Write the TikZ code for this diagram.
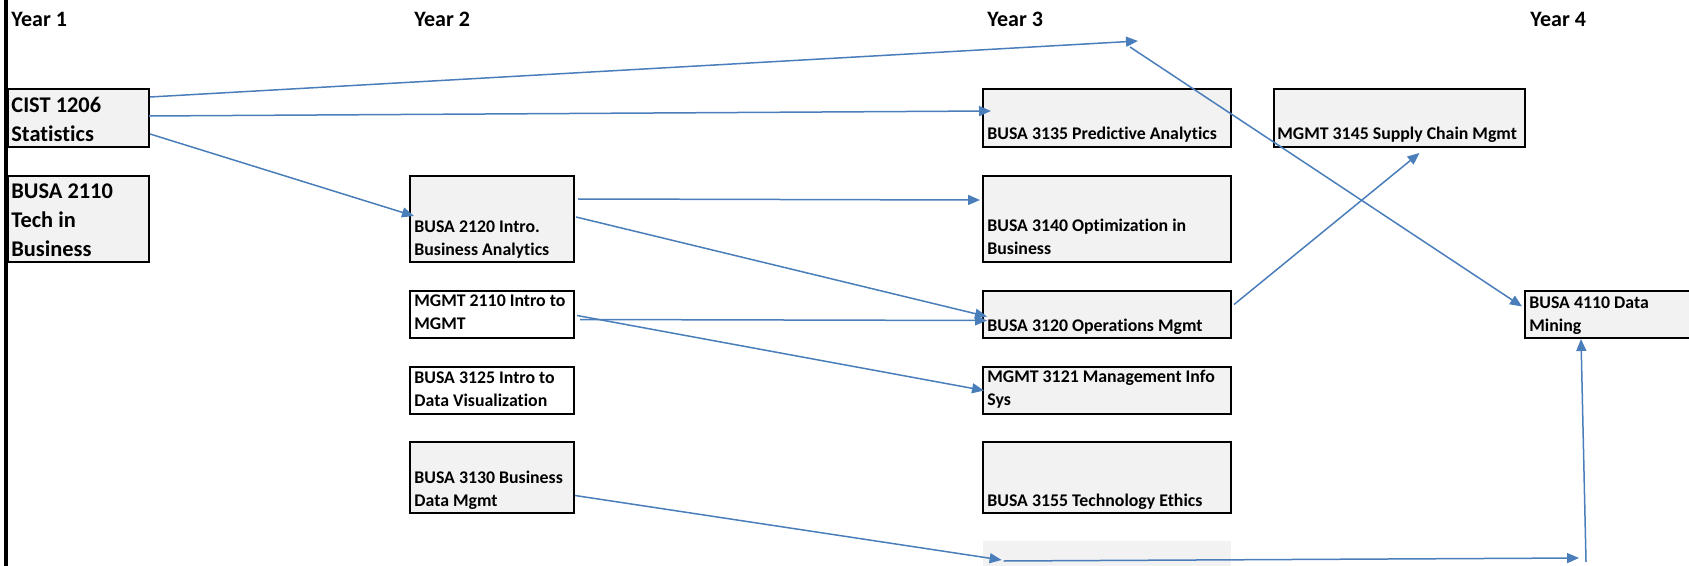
\documentclass[tikz,border=0pt]{standalone}
\usepackage{fontspec}
\setmainfont{Carlito}[Ligatures={NoCommon}]
\usetikzlibrary{arrows.meta,positioning,fit,calc}
\definecolor{xlblue}{RGB}{74,126,187}
\definecolor{xlgray}{RGB}{242,242,242}
\tikzstyle{cell} = [draw=black, line width=1pt, fill=xlgray, inner sep=0pt]
\tikzstyle{blank} = [cell, fill=white]
\tikzstyle{txt} = [anchor=base west, inner sep=0pt, align=left, font=\fontsize{8.9}{11.5}\selectfont\bfseries]
\tikzstyle{bigtxt} = [txt, font=\fontsize{11.2}{14.5}\selectfont\bfseries]
\tikzstyle{year} = [txt, font=\fontsize{11}{12}\selectfont\bfseries]
\tikzstyle{link} = [line width=0.75pt, -{Triangle[length=6pt,width=5pt]}, color=xlblue]

\begin{document}
\begin{tikzpicture}[x=0.5pt, y=-0.5pt]
\useasboundingbox (0,0) rectangle (1689,566);

% Left border
\draw[line width=2pt] (6,0) -- (6,566);

% Year headers
\node[year] (y1) at (11,27) {Year 1};
\node[year] (y2) at (414,27) {Year 2};
\node[year] (y3) at (987,27) {Year 3};
\node[year] (y4) at (1530,27) {Year 4};

% Year 1 (text nodes sit on the baseline of their last line)
\node[cell, fit={(8,89) (149,147)}] (cist) {};
\node[bigtxt] (cistT) at (11,142) {CIST 1206\\Statistics};
\node[cell, fit={(8,176) (149,262)}] (b2110) {};
\node[bigtxt] (b2110T) at (11,257) {BUSA 2110\\Tech in\\Business};

% Year 2
\node[cell, fit={(410,176) (574,262)}] (b2120) {};
\node[txt] (b2120T) at (414,256) {BUSA 2120 Intro.\\Business Analytics};
\node[blank, fit={(410,291) (574,338)}] (m2110) {};
\node[txt] (m2110T) at (414,329) {MGMT 2110 Intro to\\MGMT};
\node[blank, fit={(410,367) (574,414)}] (b3125) {};
\node[txt] (b3125T) at (414,406) {BUSA 3125 Intro to\\Data Visualization};
\node[cell, fit={(410,442) (574,513)}] (b3130) {};
\node[txt] (b3130T) at (414,506) {BUSA 3130 Business\\Data Mgmt};

% Year 3
\node[cell, fit={(983,89) (1231,147)}] (b3135) {};
\node[txt] (b3135T) at (987,140) {BUSA 3135 Predictive Analytics};
\node[cell, fit={(983,176) (1231,262)}] (b3140) {};
\node[txt] (b3140T) at (987,255) {BUSA 3140 Optimization in\\Business};
\node[cell, fit={(983,291) (1231,338)}] (b3120) {};
\node[txt] (b3120T) at (987,331) {BUSA 3120 Operations Mgmt};
\node[cell, fit={(983,367) (1231,414)}] (m3121) {};
\node[txt] (m3121T) at (987,405) {MGMT 3121 Management Info\\Sys};
\node[cell, fit={(983,442) (1231,513)}] (b3155) {};
\node[txt] (b3155T) at (987,506) {BUSA 3155 Technology Ethics};
\node[fill=xlgray, inner sep=0pt, fit={(983,541) (1231,575)}] (extra) {};
\node[cell, fit={(1274,89) (1525,147)}] (m3145) {};
\node[txt] (m3145T) at (1277,140) {MGMT 3145 Supply Chain Mgmt};

% Year 4
\node[cell, fit={(1525,291) (1695,338)}] (b4110) {};
\node[txt] (b4110T) at (1529,331) {BUSA 4110 Data\\Mining};

% Prerequisite arrows
\coordinate (tip) at (1138,41);
\coordinate (turn) at (1130,47);
\coordinate (corner) at (1579,558);
\coordinate (foot) at (1586,562);
\draw[link] ($(cist.east)+(0,-21)$) -- (tip);
\draw[link] (turn) -- ($(b4110.west)+(-2,-8)$);
\draw[link] ($(cist.east)+(-1,-2)$) -- ($(b3135.west)+(9,-7)$);
\draw[link] ($(cist.east)+(0,16)$) -- ($(b2120.west)+(5,-3)$);
\draw[link] ($(b2120.east)+(3,-20)$) -- ($(b3140.west)+(-2,-19)$);
\draw[link] ($(b2120.east)+(1,-2)$) -- ($(b3120.west)+(5,2)$);
\draw[link] ($(m2110.east)+(5,5)$) -- ($(b3120.west)+(5,6)$);
\draw[link] ($(m2110.east)+(2,1)$) -- ($(m3121.west)+(2,0)$);
\draw[link] ($(b3130.east)+(0,18)$) -- ($(extra.west)+(19,2)$);
\draw[link] ($(extra.west)+(21,3)$) -- (corner);
\draw[link] (foot) -- ($(b4110.south)+(-29,0)$);
\draw[link] ($(b3120.east)+(2,-10)$) -- ($(m3145.south)+(20,5)$);
\end{tikzpicture}
\end{document}
